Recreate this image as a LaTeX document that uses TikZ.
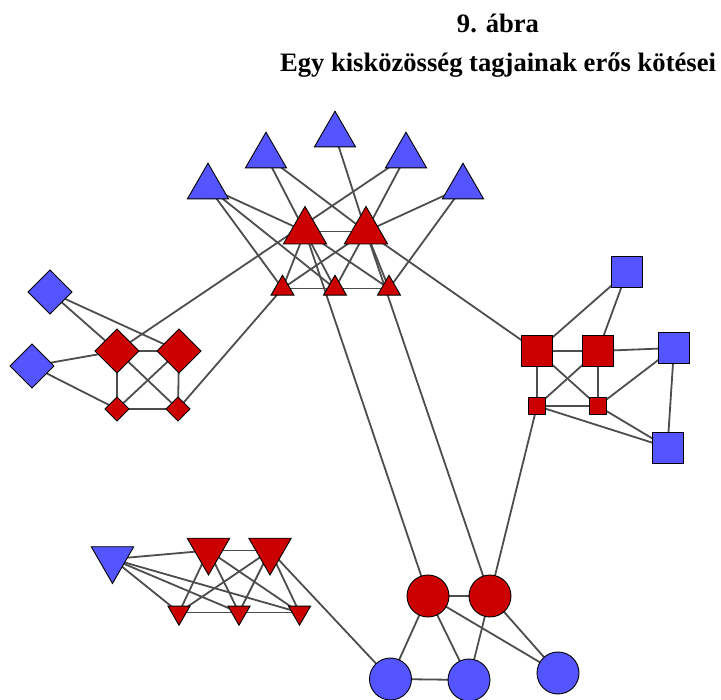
\documentclass[tikz,border=0pt]{standalone}
\usepackage{fontspec}
\setmainfont{Liberation Serif}
\usetikzlibrary{shapes.geometric,backgrounds}
\definecolor{nblue}{RGB}{85,85,255}
\definecolor{nred}{RGB}{204,0,0}
\definecolor{egray}{RGB}{77,77,77}
\tikzset{
  nbase/.style={draw=black, line width=0.9pt, inner sep=0pt, outer sep=0pt},
  bl/.style={fill=nblue}, rd/.style={fill=nred},
  tri/.style={nbase, regular polygon, regular polygon sides=3, minimum size=#1},
  dtri/.style={tri=#1, shape border rotate=180},
  dia/.style={nbase, diamond, minimum width=#1, minimum height=#1},
  sq/.style={nbase, rectangle, minimum size=#1},
  circ/.style={nbase, circle, minimum size=#1},
  link/.style={draw=egray, line width=1.8pt},
  ttl/.style={font=\fontsize{26.6}{30}\selectfont\bfseries, anchor=base, inner sep=0pt}
}
\begin{document}
\begin{tikzpicture}[x=1pt,y=-1pt]
\useasboundingbox (0,0) rectangle (721,700);
% titles
\node[ttl] (t1) at (498,33) {9. ábra};
\node[ttl] (t2) at (498,72) {Egy kisközösség tagjainak erős kötései};
% upward triangles
\node[tri=47.5,bl] (B1) at (208,187) {};
\node[tri=47.5,bl] (B2) at (266,156) {};
\node[tri=47.5,bl] (B3) at (335,135) {};
\node[tri=47.5,bl] (B4) at (406,156) {};
\node[tri=47.5,bl] (B5) at (463,187) {};
\node[tri=50,rd] (R1) at (305,231.5) {};
\node[tri=50,rd] (R2) at (366,231.5) {};
\node[tri=26.5,rd] (S1) at (282.5,288.5) {};
\node[tri=26.5,rd] (S2) at (335,288.5) {};
\node[tri=26.5,rd] (S3) at (389,288.5) {};
% diamonds
\node[dia=44,bl] (BD1) at (50,292) {};
\node[dia=44,bl] (BD2) at (32,366) {};
\node[dia=44,rd] (RD1) at (117,351) {};
\node[dia=44,rd] (RD2) at (179,351) {};
\node[dia=24,rd] (rd1) at (117,409) {};
\node[dia=24,rd] (rd2) at (178,409) {};
% squares
\node[sq=31,bl] (BS1) at (627,272) {};
\node[sq=31,rd] (RS1) at (537,351) {};
\node[sq=31,rd] (RS2) at (598,351) {};
\node[sq=31,bl] (BS2) at (674,348) {};
\node[sq=17,rd] (rs1) at (537,406) {};
\node[sq=17,rd] (rs2) at (598,406) {};
\node[sq=31,bl] (BS3) at (667.5,447.5) {};
% downward triangles
\node[dtri=49,bl] (BT) at (112.5,559) {};
\node[dtri=49,rd] (RT1) at (208.5,550.5) {};
\node[dtri=49,rd] (RT2) at (270,550.5) {};
\node[dtri=25.5,rd] (st1) at (179,612.5) {};
\node[dtri=25.5,rd] (st2) at (239,612.5) {};
\node[dtri=25.5,rd] (st3) at (299.5,612.5) {};
% circles
\node[circ=42,rd] (RC1) at (428,596) {};
\node[circ=42,rd] (RC2) at (490,596) {};
\node[circ=42,bl] (BC1) at (390.5,679) {};
\node[circ=42,bl] (BC2) at (469,680) {};
\node[circ=42,bl] (BC3) at (558,673) {};
\begin{scope}[on background layer]
\foreach \a/\b in {B1/R1,B1/S1,B1/S2,B2/R1,B2/R2,B3/R2,B4/RD1,B4/R2,B5/R2,B5/S3,
  R1/R2,R1/S1,R1/S2,R1/S3,R2/S1,R2/S2,R2/S3,S1/S2,S2/S3,S1/rd2,R1/RC1,R2/RC2,R2/RS1,
  BD1/RD1,BD1/RD2,BD2/RD1,BD2/rd1,RD1/RD2,RD1/rd1,RD1/rd2,RD2/rd1,RD2/rd2,rd1/rd2,
  RS1/BS1,RS2/BS1,RS1/RS2,RS2/BS2,RS1/rs1,RS1/rs2,RS2/rs1,RS2/rs2,rs1/rs2,rs2/BS2,
  BS2/BS3,rs1/BS3,rs2/BS3,rs1/RC2,
  BT/RT1,RT1/RT2,BT/st1,BT/st2,BT/st3,RT1/st1,RT1/st2,RT1/st3,RT2/st1,RT2/st2,RT2/st3,
  st1/st2,st2/st3,RT2/BC1,
  RC1/RC2,RC1/BC1,RC1/BC2,RC1/BC3,RC2/BC2,RC2/BC3,BC1/BC2}
  \draw[link] (\a.center) -- (\b.center);
\end{scope}
\end{tikzpicture}
\end{document}
